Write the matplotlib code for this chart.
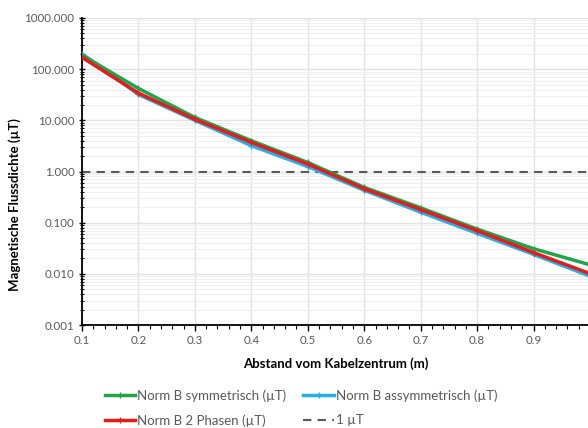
import matplotlib
matplotlib.use("Agg")
import matplotlib.pyplot as plt
from matplotlib.ticker import FixedLocator, FuncFormatter, LogLocator, NullFormatter, MultipleLocator
from matplotlib.lines import Line2D

plt.rcParams['font.family'] = ['Lato', 'DejaVu Sans']

distance = [0.1, 0.2, 0.3, 0.4, 0.5, 0.6, 0.7, 0.8, 0.9, 1.0]
sym = [188, 42, 11.4, 4.0, 1.5, 0.49, 0.195, 0.075, 0.031, 0.015]
asym = [200, 32, 10.0, 3.2, 1.25, 0.43, 0.16, 0.062, 0.024, 0.009]
two_phase = [170, 34, 10.5, 3.7, 1.4, 0.46, 0.18, 0.070, 0.026, 0.0101]
limit = 1.0

fig = plt.figure(figsize=(5.88, 4.28), dpi=100)
ax = fig.add_axes([82/588, 1-325/428, (590-82)/588, (325-18)/428])

ax.set_yscale('log')
ax.set_ylim(0.001, 1000)
ax.set_xlim(0.1, 1.0)

ax.yaxis.set_major_locator(FixedLocator([0.001, 0.01, 0.1, 1, 10, 100, 1000]))
ax.yaxis.set_major_formatter(FuncFormatter(lambda v, p: f"{v:.3f}"))
ax.yaxis.set_minor_locator(LogLocator(base=10, subs=range(2, 10), numticks=20))
ax.yaxis.set_minor_formatter(NullFormatter())
ax.xaxis.set_major_locator(MultipleLocator(0.1))
ax.xaxis.set_major_formatter(FuncFormatter(lambda v, p: "" if v > 0.95 else f"{v:.1f}"))
ax.xaxis.set_minor_locator(MultipleLocator(0.02))

ax.grid(True, which='major', axis='both', color='#e2e2e2', lw=1.0)
ax.grid(True, which='minor', axis='y', color='#efefef', lw=0.8)
ax.set_axisbelow(True)

for s in ['top', 'right']:
    ax.spines[s].set_visible(False)
for s in ['left', 'bottom']:
    ax.spines[s].set_color('black')
    ax.spines[s].set_linewidth(1.3)

ax.tick_params(axis='both', which='major', labelsize=8.3, colors='black', labelcolor='#595959', length=4, width=1)
ax.tick_params(axis='both', which='minor', length=3, width=0.8, colors='black')
ax.tick_params(axis='x', which='both', direction='out')
ax.tick_params(axis='y', which='both', direction='inout')

ax.axhline(limit, color='#595959', lw=1.5, ls=(0, (4, 3)), zorder=2)
ax.plot(distance, asym, color='#26aee6', lw=2.5, marker='+', ms=4, zorder=3)
ax.plot(distance, sym, color='#1fa64a', lw=2.5, marker='+', ms=4, zorder=4)
ax.plot(distance, two_phase, color='#e41c1c', lw=2.5, marker='+', ms=4, zorder=5)

ax.set_xlabel('Abstand vom Kabelzentrum (m)', fontsize=9.5, fontweight='bold', labelpad=8)
fig.text(15/588, 1-205/428, 'Magnetische Flussdichte (µT)', rotation=90, fontsize=9.5,
         fontweight='bold', ha='center', va='center')

handles = [
    Line2D([], [], color='#1fa64a', lw=2.5, marker='+', ms=4),
    Line2D([], [], color='#e41c1c', lw=2.5, marker='+', ms=4),
    Line2D([], [], color='#26aee6', lw=2.5, marker='+', ms=4),
    Line2D([], [], color='#595959', lw=1.5, ls=(0, (4, 3))),
]
labels = ['Norm B symmetrisch (µT)', 'Norm B 2 Phasen (µT)', 'Norm B assymmetrisch (µT)', '1 µT']
fig.legend(handles, labels, ncol=2, loc='center left', bbox_to_anchor=(93/588, 1-408/428),
           frameon=False, fontsize=9.5, labelcolor='#595959', handlelength=2.3, handletextpad=0.15,
           columnspacing=1.3, labelspacing=0.95)

fig.savefig('out.png', dpi=100)
